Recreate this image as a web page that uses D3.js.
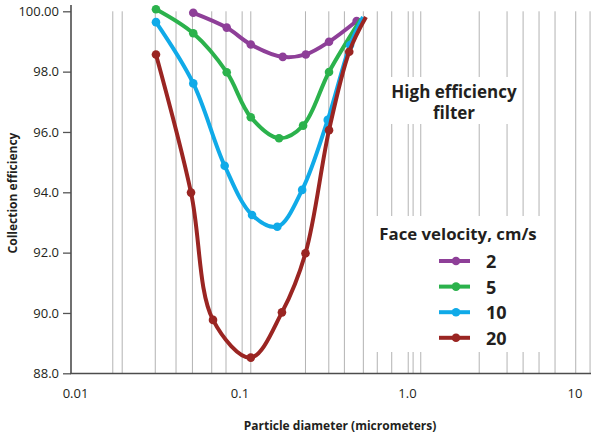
<!DOCTYPE html>
<html>
<head>
<meta charset="utf-8">
<script src="https://cdn.jsdelivr.net/npm/d3@7"></script>
<style>
  html, body { margin: 0; padding: 0; background: #fff; }
  svg { display: block; }
  text { font-family: "Open Sans", "Noto Sans", sans-serif; fill: #231f20; }
</style>
</head>
<body>
<svg id="chart" width="591" height="436"></svg>
<script>
// ---- data ----
const seriesNames = ["2", "5", "10", "20"];
const seriesColors = ["#8e3f98", "#2bb24c", "#10aae8", "#9a2522"];

const x2 = [0.0526, 0.0833, 0.116, 0.180, 0.247, 0.340, 0.497];
const y2 = [99.95, 99.46, 98.90, 98.49, 98.57, 98.99, 99.68];

const x5 = [0.0315, 0.0526, 0.0833, 0.116, 0.171, 0.238, 0.340];
const y5 = [100.07, 99.27, 97.98, 96.49, 95.79, 96.21, 97.99];

const x10 = [0.0315, 0.0526, 0.081, 0.118, 0.167, 0.235, 0.334, 0.454];
const y10 = [99.64, 97.61, 94.88, 93.25, 92.86, 94.08, 96.40, 98.88];

const x20 = [0.0315, 0.051, 0.069, 0.116, 0.178, 0.246, 0.340, 0.449];
const y20 = [98.57, 93.99, 89.77, 88.52, 90.02, 91.98, 96.06, 98.66];

// unmarked end point of each line (diameter, efficiency)
const endX = [null, 0.527, 0.542, 0.565];
const endY = [null, 99.74, 99.81, 99.81];

const gridX = [0.0174, 0.0198, 0.0312, 0.0415, 0.052, 0.0678, 0.0825, 0.103, 0.116,
               0.246, 0.339, 0.42, 0.545, 0.66, 0.805, 1.01, 1.08, 1.2,
               2.68, 3.93, 4.9, 6.1, 7.6, 10.1, 12.3];

const xTicks = [0.01, 0.1, 1, 10];
const xTickLabels = ["0.01", "0.1", "1.0", "10"];
const yTicks = [88, 90, 92, 94, 96, 98, 100];
const yTickLabels = ["88.0", "90.0", "92.0", "94.0", "96.0", "98.0", "100.00"];

const xTitle = "Particle diameter (micrometers)";
const yTitle = "Collection efficiency";
const noteLines = ["High efficiency", "filter"];
const legendTitle = "Face velocity, cm/s";

// ---- chart ----
const svg = d3.select("#chart");
const x = d3.scaleLog().domain([0.01, 10]).range([72.5, 575]);
const y = d3.scaleLinear().domain([88, 100]).range([373.3, 11.3]);

const allX = [x2, x5, x10, x20];
const allY = [y2, y5, y10, y20];

// clip gridlines around note and legend boxes
const defs = svg.append("defs");
const mask = defs.append("mask").attr("id", "gridMask");
mask.append("rect").attr("x", 0).attr("y", 0).attr("width", 591).attr("height", 436).attr("fill", "#fff");
mask.append("rect").attr("x", 384).attr("y", 77).attr("width", 132).attr("height", 47).attr("fill", "#000");
mask.append("rect").attr("x", 370).attr("y", 216).attr("width", 178).attr("height", 136).attr("fill", "#000");

svg.append("g").attr("mask", "url(#gridMask)")
  .selectAll("line").data(gridX).join("line")
  .attr("x1", d => x(d)).attr("x2", d => x(d))
  .attr("y1", y(100)).attr("y2", y(88))
  .attr("stroke", "#b3b3b3").attr("stroke-width", 1);

// axes
const yAxis = d3.axisLeft(y).tickValues(yTicks).tickSize(8).tickPadding(4)
  .tickFormat((d, i) => yTickLabels[i]);
const gy = svg.append("g").attr("transform", "translate(71,0)").call(yAxis);
gy.select(".domain").remove();
gy.selectAll(".tick line").attr("stroke", "#555").attr("stroke-width", 1.3);
gy.selectAll(".tick text").attr("font-size", 13).attr("fill", "#231f20")
  .style("font-family", '"Open Sans", sans-serif');

svg.append("line").attr("x1", 71).attr("x2", 71).attr("y1", 5).attr("y2", 374)
  .attr("stroke", "#4d4d4d").attr("stroke-width", 1.6);
svg.append("line").attr("x1", 70.2).attr("x2", 591).attr("y1", 373.5).attr("y2", 373.5)
  .attr("stroke", "#4d4d4d").attr("stroke-width", 1.6);

svg.append("g").selectAll("text").data(xTicks).join("text")
  .attr("x", d => x(d)).attr("dx", (d, i) => i === 0 ? 3 : 0).attr("y", 398)
  .attr("text-anchor", "middle").attr("font-size", 13)
  .text((d, i) => xTickLabels[i]);

// titles
svg.append("text").attr("x", 340).attr("y", 430).attr("text-anchor", "middle")
  .attr("font-size", 12).attr("font-weight", 700).text(xTitle);
svg.append("text").attr("transform", "translate(17,193) rotate(-90)").attr("text-anchor", "middle")
  .attr("font-size", 12).attr("font-weight", 700).text(yTitle);

// lines
const line = d3.line().x(d => x(d[0])).y(d => y(d[1])).curve(d3.curveCatmullRom.alpha(0.5));
seriesNames.forEach((name, i) => {
  const pts = allX[i].map((v, j) => [v, allY[i][j]]);
  const linePts = endX[i] != null ? pts.concat([[endX[i], endY[i]]]) : pts;
  svg.append("path").datum(linePts).attr("d", line)
    .attr("fill", "none").attr("stroke", seriesColors[i]).attr("stroke-width", 4)
    .attr("stroke-linejoin", "round").attr("stroke-linecap", "butt");
  svg.append("g").selectAll("circle").data(pts).join("circle")
    .attr("cx", d => x(d[0])).attr("cy", d => y(d[1])).attr("r", 4.3)
    .attr("fill", seriesColors[i]);
});

// note
svg.append("g").selectAll("text").data(noteLines).join("text")
  .attr("x", 454).attr("y", (d, i) => 98 + i * 21)
  .attr("text-anchor", "middle").attr("font-size", 17).attr("font-weight", 700)
  .text(d => d);

// legend
svg.append("text").attr("x", 458).attr("y", 240).attr("text-anchor", "middle")
  .attr("font-size", 16.8).attr("font-weight", 700).text(legendTitle);
const lg = svg.append("g").selectAll("g").data(seriesNames).join("g")
  .attr("transform", (d, i) => `translate(0,${261 + i * 25.6})`);
lg.append("line").attr("x1", 439).attr("x2", 470).attr("y1", 0).attr("y2", 0)
  .attr("stroke", (d, i) => seriesColors[i]).attr("stroke-width", 4);
lg.append("circle").attr("cx", 456).attr("cy", 0).attr("r", 4.3)
  .attr("fill", (d, i) => seriesColors[i]);
lg.append("text").attr("x", 486).attr("y", 7).attr("font-size", 18).attr("font-weight", 700)
  .text(d => d);
</script>
</body>
</html>
